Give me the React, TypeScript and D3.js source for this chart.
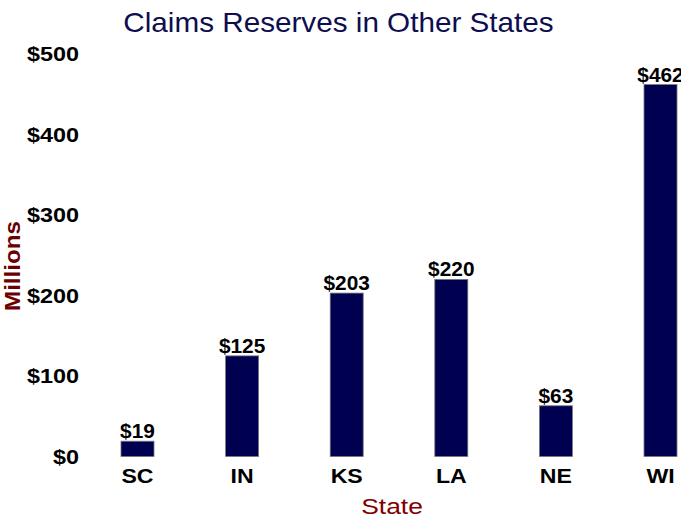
import React from "react";
import * as d3 from "d3";

const states = ["SC", "IN", "KS", "LA", "NE", "WI"];
const reserves = [19, 125, 203, 220, 63, 462];
const yTicks = [0, 100, 200, 300, 400, 500];

function SText({ x, y, sx = 1, rot = 0, children, ...rest }: any) {
  return (
    <text transform={`translate(${x},${y}) rotate(${rot}) scale(${sx},1)`} {...rest}>
      {children}
    </text>
  );
}

export default function App() {
  const W = 681, H = 519;
  const x = d3.scalePoint<string>().domain(states).range([137.5, 660.5]);
  const y = d3.scaleLinear().domain([0, 500]).range([456.5, 54]);
  const bw = 33;
  const fmt = (v: number) => "$" + v;
  return (
    <svg width={W} height={H} style={{ position: "absolute", left: 0, top: 0 }}
      fontFamily="'Liberation Sans', Arial, sans-serif">
      <rect width={W} height={H} fill="#fff" />
      <SText x={338.5} y={32} sx={1.06} textAnchor="middle" fontSize={28} fill="#0d0d50">
        Claims Reserves in Other States
      </SText>
      {yTicks.map((t) => (
        <SText key={t} x={79} y={y(t) + 7} sx={1.17} textAnchor="end" fontSize={20} fontWeight="bold" fill="#000">
          {fmt(t)}
        </SText>
      ))}
      <SText x={20} y={266} rot={-90} sx={1.1} textAnchor="middle" fontSize={22}
        fontWeight="bold" fill="#6b0000">Millions</SText>
      {states.map((s, i) => (
        <g key={s}>
          <rect x={x(s)! - bw / 2} y={y(reserves[i])} width={bw} height={y(0) - y(reserves[i])}
            fill="#000050" stroke="#777" strokeWidth={0.8} />
          <SText x={x(s)!} y={y(reserves[i]) - 3} sx={1.07} textAnchor="middle" fontSize={19.5}
            fontWeight="bold" fill="#000">{fmt(reserves[i])}</SText>
          <SText x={x(s)!} y={483} sx={1.1} textAnchor="middle" fontSize={21} fontWeight="bold" fill="#000">{s}</SText>
        </g>
      ))}
      <SText x={392} y={514} sx={1.2} textAnchor="middle" fontSize={22} fill="#800000">State</SText>
    </svg>
  );
}
